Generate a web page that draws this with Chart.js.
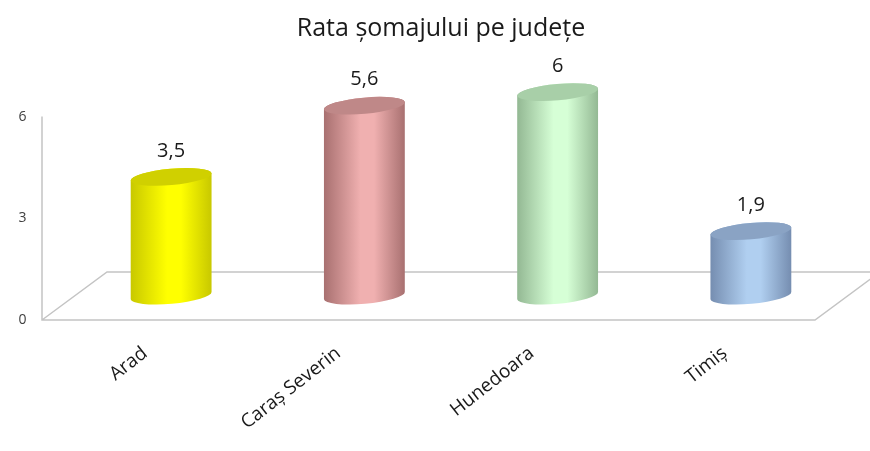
<!DOCTYPE html>
<html>
<head>
<meta charset="utf-8">
<script src="https://cdn.jsdelivr.net/npm/chart.js@4.4.1/dist/chart.umd.min.js"></script>
<style>
  html, body { margin: 0; padding: 0; background: #fff; }
  #wrap { width: 870px; height: 451px; }
</style>
</head>
<body>
<div id="wrap"><canvas id="grafic"></canvas></div>
<script>
const judete = ["Arad", "Caraș Severin", "Hunedoara", "Timiș"];
const rataSomaj = [3.5, 5.6, 6, 1.9];
const valoriAxa = [0, 3, 6];

// culori cilindri: lumina (mijloc), umbra (margini), capac
const culoareLumina = ['#ffff00', '#f0b0b0', '#d6ffd6', '#b0cff0'];
const culoareUmbra = ['#c8c800', '#a87070', '#93b893', '#758db0'];
const culoareCapac = ['#d0d000', '#bf8888', '#a8cfa8', '#8aa3c4'];

// adancimea podelei 3D (px)
const ADX = 65, ADY = 48;

function virgula(v) {
  return String(v).replace('.', ',');
}

const cilindri = {
  id: 'cilindri',
  afterLayout(chart) {
    // titlul centrat ca in Excel, nu pe zona cu etichetele axei
    chart.titleBlock.left = chart.chartArea.left - 40;
  },
  beforeDatasetsDraw(chart) {
    const { ctx, chartArea, scales } = chart;
    const y0 = scales.y.getPixelForValue(0);
    const ySus = scales.y.getPixelForValue(valoriAxa[valoriAxa.length - 1]);
    const xs = chartArea.left - ADX / 2;
    const xd = chartArea.right - ADX / 2;
    ctx.save();
    ctx.strokeStyle = '#c4c4c4';
    ctx.lineWidth = 1.5;
    ctx.beginPath();
    ctx.moveTo(xs, ySus);
    ctx.lineTo(xs, y0);
    ctx.lineTo(xd, y0);
    ctx.lineTo(xd + ADX, y0 - ADY);
    ctx.lineTo(xs + ADX, y0 - ADY);
    ctx.lineTo(xs, y0);
    ctx.stroke();
    ctx.restore();
  },
  afterDatasetsDraw(chart) {
    const { ctx } = chart;
    const meta = chart.getDatasetMeta(0);
    meta.data.forEach((bar, i) => {
      const rx = bar.width / 2, ry = rx * 0.2, rot = -0.09;
      const cx = bar.x, sus = bar.y, jos = bar.base;
      const dx = rx * Math.cos(rot), dy = rx * Math.sin(rot);
      ctx.save();
      const grad = ctx.createLinearGradient(cx - rx, 0, cx + rx, 0);
      grad.addColorStop(0, culoareUmbra[i]);
      grad.addColorStop(0.45, culoareLumina[i]);
      grad.addColorStop(0.62, culoareLumina[i]);
      grad.addColorStop(1, culoareUmbra[i]);
      ctx.fillStyle = grad;
      ctx.beginPath();
      ctx.moveTo(cx - dx, sus - dy);
      ctx.lineTo(cx - dx, jos - dy);
      ctx.ellipse(cx, jos, rx, ry, rot, Math.PI, 0, true);
      ctx.lineTo(cx + dx, sus + dy);
      ctx.ellipse(cx, sus, rx, ry, rot, 0, Math.PI, true);
      ctx.closePath();
      ctx.fill();
      ctx.fillStyle = culoareCapac[i];
      ctx.beginPath();
      ctx.ellipse(cx, sus, rx, ry, rot, 0, Math.PI * 2);
      ctx.fill();
      // eticheta valorii
      ctx.fillStyle = '#1a1a1a';
      ctx.font = '20px "Open Sans"';
      ctx.textAlign = 'center';
      ctx.textBaseline = 'middle';
      ctx.fillText(virgula(rataSomaj[i]), cx, sus - 26);
      ctx.restore();
    });
  }
};

const ctx = document.getElementById('grafic');

new Chart(ctx, {
  type: 'bar',
  data: {
    labels: judete,
    datasets: [{
      label: 'Rata șomajului',
      data: rataSomaj,
      yAxisID: 'yb',
      backgroundColor: 'rgba(0,0,0,0)',
      borderWidth: 0,
      categoryPercentage: 1,
      barPercentage: 0.42
    }]
  },
  options: {
    responsive: true,
    maintainAspectRatio: false,
    animation: false,
    layout: { padding: { left: 14, right: 22.5, top: 0, bottom: 0 } },
    plugins: {
      legend: { display: false },
      tooltip: { enabled: false },
      title: {
        display: true,
        text: 'Rata șomajului pe județe',
        color: '#1a1a1a',
        font: { family: '"Open Sans"', size: 25, weight: 'normal' },
        padding: { top: 14, bottom: 26.8 }
      }
    },
    scales: {
      x: {
        grid: { display: false, drawTicks: false },
        border: { display: false },
        ticks: {
          color: '#1a1a1a',
          font: { family: '"Open Sans"', size: 19 },
          minRotation: 38,
          maxRotation: 38,
          labelOffset: -26,
          padding: 22
        },
        afterFit(scale) { scale.height = 131; }
      },
      y: {
        min: 0,
        max: 7.35,
        position: 'left',
        grid: { display: false, drawTicks: false },
        border: { display: false },
        afterBuildTicks(scale) {
          scale.ticks = valoriAxa.map(v => ({ value: v }));
        },
        ticks: {
          color: '#404040',
          font: { family: '"Open Sans"', size: 14 },
          padding: 48
        },
        afterFit(scale) { scale.width = 60.5; }
      },
      yb: {
        display: false,
        min: -0.72,
        max: 7.35 - 0.72
      }
    }
  },
  plugins: [cilindri]
});
</script>
</body>
</html>
